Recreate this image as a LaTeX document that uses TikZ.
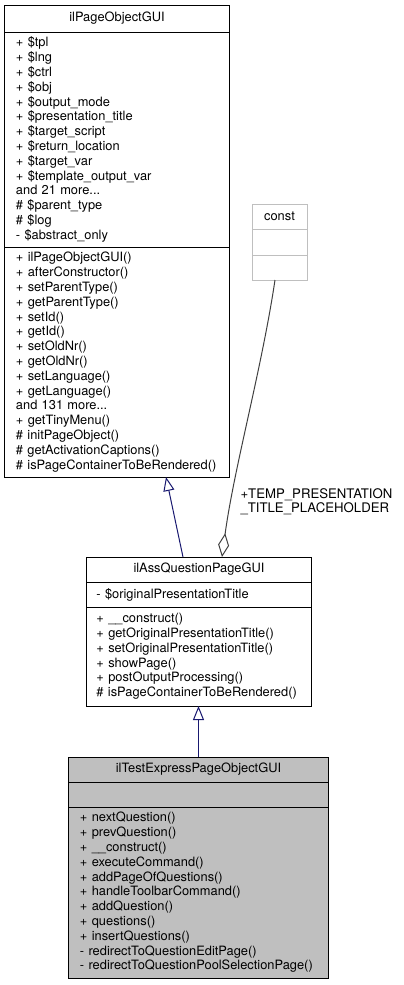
\documentclass[tikz,border=0pt]{standalone}
\usepackage{fontspec}
\setmainfont{TeX Gyre Heros}
\usepackage{tikz}
\usetikzlibrary{positioning,arrows.meta,calc}
\definecolor{classgray}{RGB}{191,191,191}
\definecolor{inheritblue}{RGB}{25,25,112}
\definecolor{usegray}{RGB}{64,64,64}

\begin{document}
\begin{tikzpicture}[x=1bp,y=-1bp,
  every node/.style={font=\fontsize{12.85bp}{14.8bp}\selectfont, outer sep=0pt, inner sep=0pt},
  part/.style args={#1/#2}{draw=black, line width=1bp, fill=white, minimum width=#1,
    text width=#1-2*#2, inner xsep=#2, align=left, anchor=north},
  head/.style={align=center},
  inherit/.style={draw=inheritblue, line width=1bp, -{Triangle[open, length=14bp, width=11bp]}},
  uses/.style={draw=usegray, line width=1bp, -{Diamond[open, length=24bp, width=11bp]}}]
  \useasboundingbox (0,0) rectangle (403,985);

  \node[part=224bp/11bp, head, minimum height=27bp] (pageTitle) at (117,5) {ilPageObjectGUI};
  \node[part=224bp/11bp, minimum height=215bp, below=0pt of pageTitle] (pageAttr)
    {+ \$tpl\\+ \$lng\\+ \$ctrl\\+ \$obj\\+ \$output\_mode\\+ \$presentation\_title\\+ \$target\_script\\+ \$return\_location\\+ \$target\_var\\+ \$template\_output\_var\\and 21 more...\\\# \$parent\_type\\\# \$log\\- \$abstract\_only};
  \node[part=224bp/11bp, minimum height=230bp, below=0pt of pageAttr] (pageOps)
    {+ ilPageObjectGUI()\\+ afterConstructor()\\+ setParentType()\\+ getParentType()\\+ setId()\\+ getId()\\+ setOldNr()\\+ getOldNr()\\+ setLanguage()\\+ getLanguage()\\and 131 more...\\+ getTinyMenu()\\\# initPageObject()\\\# getActivationCaptions()\\\# isPageContainerToBeRendered()};

  \node[part=55bp/2bp, head, draw=classgray, minimum height=25bp] (constTitle) at (279.5,204) {const};
  \node[part=55bp/2bp, draw=classgray, minimum height=26bp, below=0pt of constTitle] (constAttr) {};
  \node[part=55bp/2bp, draw=classgray, minimum height=25bp, below=0pt of constAttr] (constOps) {};

  \node[part=224bp/9.5bp, head, minimum height=25bp] (assTitle) at (199,557) {ilAssQuestionPageGUI};
  \node[part=224bp/9.5bp, minimum height=25bp, below=0pt of assTitle] (assAttr) {- \$originalPresentationTitle};
  \node[part=224bp/9.5bp, minimum height=99bp, below=0pt of assAttr] (assOps)
    {+ \_\_construct()\\+ getOriginalPresentationTitle()\\+ setOriginalPresentationTitle()\\+ showPage()\\+ postOutputProcessing()\\\# isPageContainerToBeRendered()};

  \node[part=259bp/11bp, head, fill=classgray, minimum height=25bp] (testTitle) at (198.5,757) {ilTestExpressPageObjectGUI};
  \node[part=259bp/11bp, fill=classgray, minimum height=25bp, below=0pt of testTitle] (testAttr) {};
  \node[part=259bp/11bp, fill=classgray, minimum height=171bp, below=0pt of testAttr] (testOps)
    {+ nextQuestion()\\+ prevQuestion()\\+ \_\_construct()\\+ executeCommand()\\+ addPageOfQuestions()\\+ handleToolbarCommand()\\+ addQuestion()\\+ questions()\\+ insertQuestions()\\- redirectToQuestionEditPage()\\- redirectToQuestionPoolSelectionPage()};

  \draw[inherit] ($(assTitle.north)+(-16,0)$) -- ($(pageOps.south)+(49,0)$);
  \draw[uses] ($(constOps.south)+(-4.5,0)$) .. controls +(-13.5,90) and +(12,-89) .. ($(assTitle.north)+(23,0)$);
  \node[anchor=base west, align=left, font=\fontsize{13.2bp}{14bp}\selectfont] (useLabel) at (240.5,512.7) {+TEMP\_PRESENTATION\\\_TITLE\_PLACEHOLDER};
  \draw[inherit] (testTitle.north) -- (testTitle.north |- assOps.south);
\end{tikzpicture}
\end{document}
